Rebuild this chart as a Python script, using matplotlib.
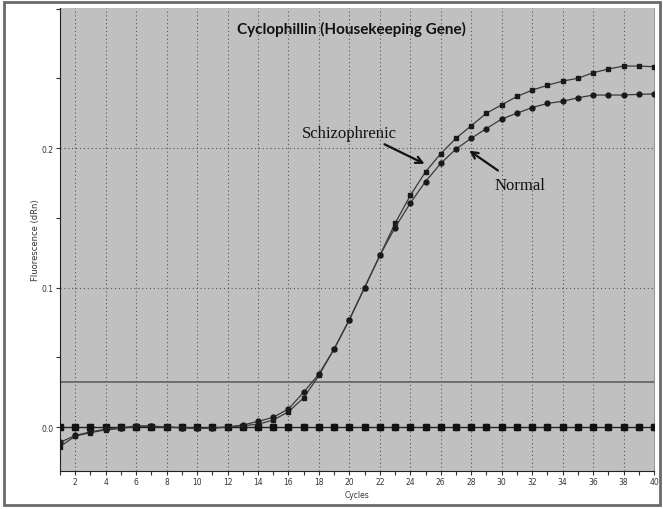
import numpy as np
import matplotlib
matplotlib.use('Agg')
import matplotlib.pyplot as plt
from matplotlib.patches import Rectangle
from matplotlib.ticker import MultipleLocator

# Amplification plot values (fluorescence dRn per cycle)
cycles = list(range(1, 41))
schizo = [-0.014, -0.0065, -0.004, -0.002, -0.001, 0.0005, 0.0005, 0.0, -0.0005, -0.001,
          -0.0008, 0.0, 0.001, 0.002, 0.005, 0.011, 0.021, 0.037, 0.056, 0.077,
          0.100, 0.123, 0.146, 0.166, 0.183, 0.196, 0.207, 0.216, 0.225, 0.231,
          0.237, 0.2415, 0.245, 0.248, 0.250, 0.254, 0.2566, 0.2588, 0.2588, 0.2583]
normal = [-0.011, -0.006, -0.0035, -0.0015, -0.0005, 0.0008, 0.0008, 0.0, -0.0005, -0.001,
          -0.0005, 0.0, 0.0015, 0.004, 0.007, 0.013, 0.025, 0.038, 0.056, 0.077,
          0.100, 0.123, 0.143, 0.1606, 0.176, 0.189, 0.1993, 0.207, 0.214, 0.2208,
          0.225, 0.229, 0.232, 0.2335, 0.236, 0.238, 0.238, 0.238, 0.2385, 0.2388]
no_template = [0.0] * 40
threshold = 0.032

title = "Cyclophillin (Housekeeping Gene)"

fig = plt.figure(figsize=(6.63, 5.10), dpi=100)
ax = fig.add_axes([60 / 663, 38 / 510, 594 / 663, 463 / 510])
ax.set_facecolor('#c0c0c0')

# dotted grid: every 2 cycles, every 0.1 dRn
for c in range(2, 40, 2):
    ax.axvline(c, color='#555555', ls=(0, (1, 2.5)), lw=0.8, zorder=1)
for v in (0.1, 0.2):
    ax.axhline(v, color='#555555', ls=(0, (1, 2.5)), lw=0.8, zorder=1)

ax.axhline(threshold, color='#6e6e6e', lw=1.4, zorder=2)

# flat baseline trace (both markers overlap)
ax.plot(cycles, no_template, color='#222222', lw=1.0, marker='s', ms=3.8, mfc='#111111',
        mec='#111111', zorder=3)
ax.plot(cycles, no_template, color='#222222', lw=0, marker='o', ms=4.3, mfc='#111111',
        mec='#111111', zorder=3)

ax.plot(cycles, schizo, color='#3a3a3a', lw=0.9, marker='s', ms=3.5, mfc='#1a1a1a',
        mec='#1a1a1a', zorder=4)
ax.plot(cycles, normal, color='#3a3a3a', lw=0.9, marker='o', ms=3.5, mfc='#1a1a1a',
        mec='#1a1a1a', zorder=4)

ax.set_xlim(1, 40)
ax.set_ylim(-0.0315, 0.3004)
ax.xaxis.set_minor_locator(MultipleLocator(1))
ax.yaxis.set_minor_locator(MultipleLocator(0.05))
ax.set_xticks(range(2, 41, 2))
ax.set_xticklabels([str(c) for c in range(2, 41, 2)])
ax.set_yticks([0.0, 0.1, 0.2])
ax.set_yticklabels(['0.0', '0.1', '0.2'])
ax.tick_params(which='both', direction='out', length=3, width=0.8, color='#333333',
               labelsize=5.5, labelcolor='#333333', pad=1.5)

ax.spines['top'].set_visible(False)
ax.spines['right'].set_color('#9a9a9a')
ax.spines['left'].set_color('#222222')
ax.spines['bottom'].set_color('#222222')

ax.set_xlabel('Cycles', fontsize=5.5, color='#333333', labelpad=3)
ax.set_ylabel('Fluorescence (dRn)', fontsize=6, color='#333333', labelpad=1)

ax.text(0.49, 0.955, title, transform=ax.transAxes, ha='center', va='center',
        fontsize=11, fontweight='bold', family='Lato', color='#111111')

# callouts
ax.text(20.0, 0.2108, 'Schizophrenic', family='Liberation Serif', fontsize=12,
        ha='center', va='center', color='#111111')
ax.annotate('', xy=(25.1, 0.1878), xytext=(22.14, 0.2036),
            arrowprops=dict(arrowstyle='->', lw=1.6, color='#111111',
                            mutation_scale=12))
ax.text(31.2, 0.1735, 'Normal', family='Liberation Serif', fontsize=12,
        ha='center', va='center', color='#111111')
ax.annotate('', xy=(27.72, 0.1993), xytext=(29.9, 0.1828),
            arrowprops=dict(arrowstyle='->', lw=1.6, color='#111111',
                            mutation_scale=12))

# outer window frame
fig.patches.append(Rectangle((4 / 663, 4 / 510), 656 / 663, 503 / 510,
                             transform=fig.transFigure, fill=False,
                             edgecolor='#6a6a6a', lw=2))

fig.savefig('out.png', dpi=100)
